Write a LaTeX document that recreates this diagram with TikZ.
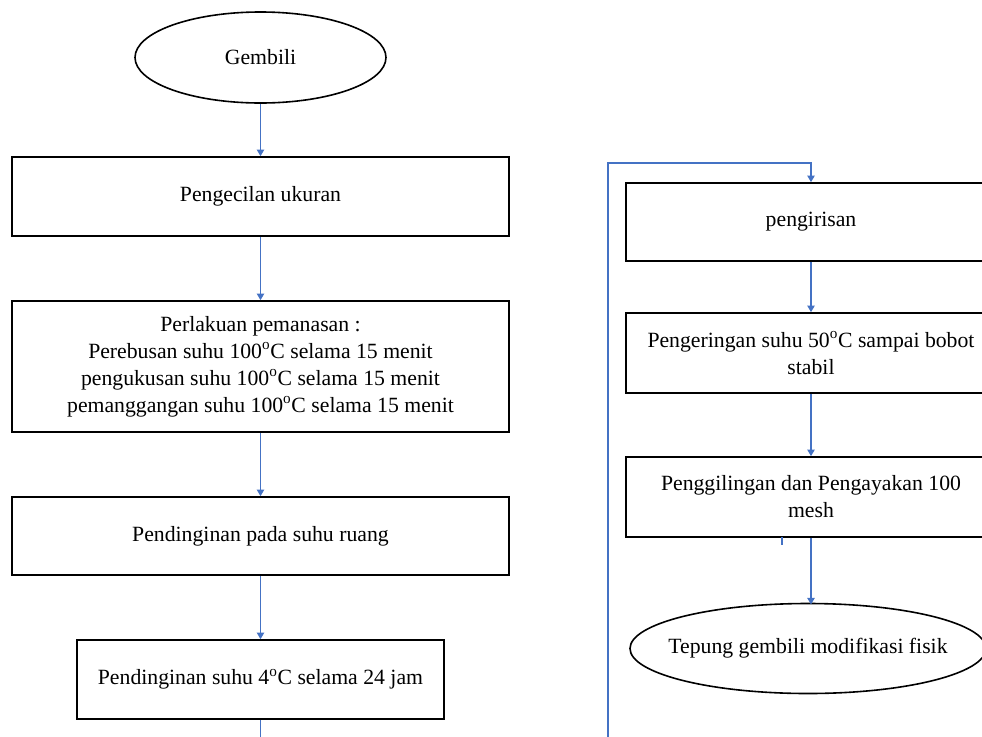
\documentclass[tikz,border=0pt]{standalone}
\usepackage{fontspec}
\setmainfont{Liberation Serif}
\usetikzlibrary{shapes.geometric,arrows.meta}
\definecolor{arrowblue}{HTML}{4472C4}
\begin{document}
\begin{tikzpicture}[x=0.75pt,y=-0.75pt,
  every node/.style={font=\fontsize{16.3}{20.3}\selectfont, align=center, inner sep=0pt},
  procbox/.style={draw=black, line width=1.2pt, rectangle},
  wide/.style={minimum width=372.75pt},
  oval/.style={draw=black, line width=1.2pt, ellipse},
  flow/.style={draw=arrowblue, line width=1.2pt, -{Triangle[width=5.5pt,length=5pt]}},
  plain/.style={draw=arrowblue, line width=1.2pt}]
\useasboundingbox (0,0) rectangle (982,736);
% left column
\node[oval, minimum width=188.25pt, minimum height=68.25pt, label=center:Gembili] (g) at (260.5,57.5) {};
\node[procbox, wide, minimum height=59.25pt] (b1) at (260.5,196.5) {Pengecilan ukuran};
\node[procbox, wide, minimum height=98.25pt] (b2) at (260.5,366.5) {Perlakuan pemanasan :\\Perebusan suhu 100\textsuperscript{o}C selama 15 menit\\pengukusan suhu 100\textsuperscript{o}C selama 15 menit\\pemanggangan suhu 100\textsuperscript{o}C selama 15 menit};
\node[procbox, wide, minimum height=58.5pt] (b3) at (260.5,536) {Pendinginan pada suhu ruang};
\node[procbox, minimum width=275.25pt, minimum height=59.25pt] (b4) at (260.5,679.5) {Pendinginan suhu 4\textsuperscript{o}C selama 24 jam};
\coordinate (e1) at (260.5,742);
% right column
\node[procbox, minimum width=277.5pt, minimum height=58.5pt] (r1) at (811,222) {pengirisan};
\node[procbox, minimum width=277.5pt, minimum height=60pt] (r2) at (811,353) {Pengeringan suhu 50\textsuperscript{o}C sampai bobot\\stabil};
\node[procbox, minimum width=277.5pt, minimum height=60pt] (r3) at (811,497) {Penggilingan dan Pengayakan 100\\mesh};
\node[oval, minimum width=267pt, minimum height=67.5pt, label={center:Tepung gembili modifikasi fisik}] (r4) at (808,648.5) {};
\coordinate (s0) at (608,742);
\coordinate (s1) at (608,163);
\coordinate (s2) at (811,163);
\coordinate (t0) at (782,537);
\coordinate (t1) at (782,545);
\coordinate (a5) at (811,604.5);
% connectors
\draw[flow] (g) -- (b1);
\draw[flow] (b1) -- (b2);
\draw[flow] (b2) -- (b3);
\draw[flow] (b3) -- (b4);
\draw[plain] (b4.south) -- (e1);
\draw[flow] (s0) -- (s1) -- (s2) -- (r1.north);
\draw[flow] (r1) -- (r2);
\draw[flow] (r2) -- (r3);
\draw[flow] (r3.south) -- (a5);
\draw[plain] (t0) -- (t1);
\end{tikzpicture}
\end{document}
